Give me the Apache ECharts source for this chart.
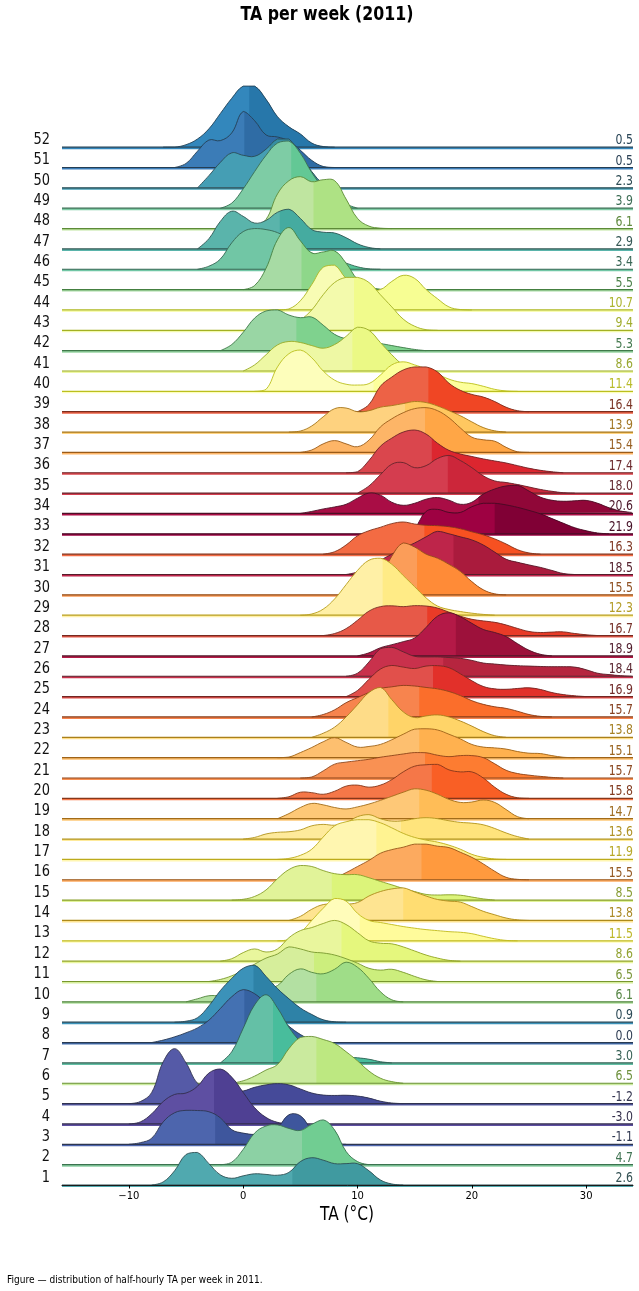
<!DOCTYPE html>
<html>
<head>
<meta charset="utf-8">
<title>TA per week (2011)</title>
<script src="https://cdn.jsdelivr.net/npm/echarts@6/dist/echarts.min.js"></script>
<style>
  html, body { margin: 0; padding: 0; background: #ffffff; }
  #chart { width: 639px; height: 1291px; }
</style>
</head>
<body>
<div id="chart"></div>
<script>
// weekly medians (right-hand labels), week 1 .. week 52
const medians = [
  2.6, 4.7, -1.1, -3.0, -1.2, 6.5, 3.0, 0.0, 0.9, 6.1,
  6.5, 8.6, 11.5, 13.8, 8.5, 15.5, 11.9, 13.6, 14.7, 15.8,
  15.7, 15.1, 13.8, 15.7, 16.9, 18.4, 18.9, 16.7, 12.3, 15.5,
  18.5, 16.3, 21.9, 20.6, 18.0, 17.4, 15.4, 13.9, 16.4, 11.4,
  8.6, 5.3, 9.4, 10.7, 5.5, 3.4, 2.9, 6.1, 3.9, 2.3,
  0.5, 0.5
];

// where the shade changes inside each ridge (°C), week 1 .. 52
const splitAt = [
  4.3, 5.15, -2.45, -2.55, -1.2, 6.4, 2.6, 0.1, 0.9, 6.4,
  6.2, 8.6, 10.2, 14.0, 7.75, 15.6, 11.65, 13.8, 15.4, 16.5,
  15.9, 15.4, 12.7, 15.4, 16.6, 17.5, 18.6, 16.1, 12.2, 15.2,
  18.4, 15.85, 22.0, 20.6, 17.9, 16.5, 15.9, 14.15, 16.2, 11.4,
  9.55, 4.65, 9.7, 10.7, 5.1, 3.4, 3.2, 6.15, 4.2, 2.3,
  0.1, 0.53
];

// first temperature (°C) of each density row; rows are sampled every 1 °C
const curveStart = [
  -8, -2, -10, -10, -10, -1, -2, -8, -6, -5,
  -3, -2, 3, 4, -1, 7, 3, 0, 3, 3,
  5, 3, 6, 6, 9, 9, 10, 7, 5, 10,
  9, 7, 13, 5, 10, 9, 5, 4, 10, 1,
  0, -2, 3, 3, 0, -4, -4, 0, -2, -4,
  -6, -7
];

// ridge heights, in units of the row spacing
const densities = [
  [0, 0.15, 0.7, 1.5, 1.6, 1.05, 0.5, 0.33, 0.45, 0.55, 0.52, 0.48, 0.62, 1.15, 1.34, 1.22, 1.05, 1.05, 1.05, 0.7, 0.25, 0.05, 0],
  [0, 0.12, 0.75, 1.55, 1.9, 1.95, 1.78, 1.68, 1.98, 2.2, 1.7, 0.65, 0.15, 0],
  [0, 0.08, 0.3, 1.1, 1.55, 1.67, 1.66, 1.6, 1.3, 0.72, 0.55, 0.48, 0.5, 0.8, 1.45, 1.4, 0.7, 0.25, 0.05, 0],
  [0, 0.1, 0.5, 1.1, 1.45, 1.52, 1.85, 2.5, 2.7, 2.3, 1.55, 0.8, 0.32, 0.08, 0],
  [0, 0.1, 0.55, 2.05, 2.7, 2.0, 1.0, 0.75, 0.65, 0.6, 0.62, 0.8, 0.92, 0.98, 0.92, 0.72, 0.52, 0.42, 0.4, 0.41, 0.37, 0.27, 0.12, 0.03, 0],
  [0, 0.12, 0.35, 0.65, 0.92, 1.7, 2.25, 2.3, 2.15, 1.95, 1.55, 1.1, 0.6, 0.25, 0.08, 0],
  [0, 0.55, 1.7, 2.85, 3.35, 2.7, 1.75, 1.05, 0.6, 0.38, 0.3, 0.28, 0.25, 0.18, 0.06, 0],
  [0, 0.12, 0.28, 0.48, 0.72, 1.1, 1.67, 2.25, 2.6, 2.4, 1.9, 1.3, 0.8, 0.4, 0.12, 0.02, 0],
  [0, 0.05, 0.22, 0.8, 1.55, 2.15, 2.65, 2.8, 2.25, 1.65, 1.15, 0.7, 0.38, 0.12, 0.02, 0],
  [0, 0.15, 0.3, 0.3, 0.35, 0.45, 0.55, 0.65, 0.8, 1.35, 1.62, 1.45, 1.38, 1.6, 1.95, 1.7, 1.15, 0.5, 0.1, 0],
  [0, 0.1, 0.28, 0.55, 0.85, 1.15, 1.35, 1.7, 1.6, 1.45, 1.4, 1.3, 1.12, 0.9, 0.65, 0.56, 0.6, 0.45, 0.25, 0.08, 0],
  [0, 0.12, 0.42, 0.6, 0.45, 0.6, 1.15, 1.5, 1.65, 1.85, 2.0, 1.8, 1.4, 1.0, 0.88, 0.85, 0.7, 0.5, 0.3, 0.15, 0.04, 0],
  [0, 0.06, 0.4, 1.0, 1.6, 2.08, 1.95, 1.35, 1.0, 0.9, 0.8, 0.7, 0.62, 0.55, 0.5, 0.45, 0.42, 0.35, 0.22, 0.1, 0.02, 0],
  [0, 0.2, 0.55, 0.78, 0.8, 0.8, 0.88, 1.2, 1.42, 1.55, 1.6, 1.4, 1.2, 1.03, 0.95, 0.9, 0.68, 0.45, 0.28, 0.12, 0.03, 0],
  [0, 0.04, 0.18, 0.5, 1.05, 1.5, 1.7, 1.65, 1.45, 1.3, 1.25, 1.25, 1.1, 0.92, 0.75, 0.57, 0.42, 0.28, 0.25, 0.26, 0.24, 0.15, 0.06, 0],
  [0, 0.1, 0.35, 0.65, 0.95, 1.3, 1.48, 1.6, 1.75, 1.75, 1.65, 1.58, 1.35, 1.1, 0.78, 0.42, 0.12, 0.02, 0],
  [0, 0.05, 0.2, 0.5, 1.1, 1.65, 1.85, 1.95, 1.95, 1.8, 1.55, 1.28, 1.08, 0.95, 0.85, 0.7, 0.5, 0.25, 0.1, 0.02, 0],
  [0, 0.08, 0.25, 0.33, 0.36, 0.45, 0.65, 0.72, 0.68, 0.8, 1.1, 1.2, 1.0, 0.88, 0.9, 1.0, 1.05, 1.0, 0.9, 0.82, 0.78, 0.7, 0.52, 0.3, 0.12, 0],
  [0, 0.25, 0.55, 0.75, 0.68, 0.55, 0.48, 0.58, 0.72, 0.9, 1.1, 1.3, 1.47, 1.4, 1.2, 0.95, 0.8, 0.82, 0.92, 0.8, 0.45, 0.1, 0],
  [0, 0.08, 0.3, 0.28, 0.2, 0.35, 0.6, 0.65, 0.55, 0.65, 0.92, 1.3, 1.58, 1.65, 1.67, 1.4, 1.3, 1.3, 1.0, 0.55, 0.2, 0.03, 0],
  [0, 0.05, 0.35, 0.68, 0.78, 0.85, 0.92, 1.02, 1.1, 1.18, 1.25, 1.24, 1.12, 1.05, 1.1, 1.1, 1.0, 0.7, 0.38, 0.22, 0.14, 0.08, 0.03, 0],
  [0, 0.03, 0.25, 0.5, 0.78, 0.98, 0.75, 0.52, 0.55, 0.65, 0.88, 1.15, 1.4, 1.42, 1.36, 1.15, 0.92, 0.65, 0.52, 0.48, 0.42, 0.3, 0.22, 0.2, 0.1, 0.02, 0],
  [0, 0.2, 0.5, 1.0, 1.6, 2.2, 2.45, 1.85, 1.25, 0.97, 1.05, 1.1, 1.0, 0.8, 0.55, 0.28, 0.08, 0],
  [0, 0.12, 0.35, 0.7, 0.95, 1.2, 1.4, 1.48, 1.55, 1.52, 1.45, 1.38, 1.25, 1.05, 0.8, 0.62, 0.5, 0.42, 0.28, 0.12, 0.03, 0],
  [0, 0.3, 0.85, 1.35, 1.53, 1.45, 1.38, 1.5, 1.52, 1.42, 1.12, 0.78, 0.5, 0.38, 0.36, 0.4, 0.43, 0.35, 0.2, 0.1, 0.04, 0],
  [0, 0.15, 0.7, 1.35, 1.42, 1.2, 0.98, 0.95, 0.95, 0.92, 0.88, 0.78, 0.65, 0.6, 0.55, 0.52, 0.5, 0.48, 0.47, 0.47, 0.45, 0.32, 0.15, 0.08, 0.03, 0],
  [0, 0.15, 0.4, 0.55, 0.7, 0.88, 1.4, 1.95, 2.12, 1.92, 1.6, 1.3, 1.15, 0.95, 0.6, 0.28, 0.08, 0],
  [0, 0.1, 0.34, 0.75, 1.2, 1.42, 1.46, 1.42, 1.47, 1.45, 1.35, 1.15, 0.95, 0.8, 0.72, 0.65, 0.52, 0.35, 0.2, 0.15, 0.17, 0.18, 0.1, 0.04, 0],
  [0, 0.06, 0.3, 0.8, 1.5, 2.2, 2.7, 2.8, 2.5, 1.95, 1.4, 0.85, 0.45, 0.28, 0.18, 0.1, 0.04, 0],
  [0, 0.15, 0.8, 1.9, 2.55, 2.35, 2.0, 1.8, 1.5, 1.15, 0.65, 0.25, 0.05, 0],
  [0, 0.12, 0.35, 0.7, 1.0, 1.3, 1.55, 1.85, 2.12, 2.0, 1.85, 1.7, 1.45, 1.1, 0.75, 0.6, 0.47, 0.35, 0.2, 0.05, 0],
  [0, 0.12, 0.45, 0.9, 1.15, 1.32, 1.5, 1.58, 1.48, 1.42, 1.4, 1.35, 1.25, 1.1, 0.95, 0.75, 0.5, 0.22, 0.06, 0],
  [0, 0.08, 0.3, 1.1, 1.2, 1.05, 1.05, 1.33, 1.5, 1.5, 1.42, 1.3, 1.15, 0.98, 0.75, 0.52, 0.3, 0.15, 0.04, 0],
  [0, 0.1, 0.22, 0.32, 0.45, 0.75, 1.0, 0.9, 0.55, 0.4, 0.5, 0.7, 0.78, 0.65, 0.45, 0.55, 0.95, 1.2, 1.35, 1.38, 1.1, 0.8, 0.65, 0.6, 0.62, 0.64, 0.5, 0.28, 0.12, 0.05],
  [0, 0.35, 0.9, 1.42, 1.5, 1.25, 1.35, 1.7, 1.85, 1.6, 1.25, 0.85, 0.6, 0.52, 0.42, 0.3, 0.18, 0.09, 0.02, 0],
  [0, 0.05, 0.6, 1.3, 1.7, 2.0, 2.1, 1.9, 1.45, 1.1, 0.92, 0.8, 0.68, 0.58, 0.48, 0.35, 0.22, 0.12, 0.05, 0],
  [0, 0.12, 0.42, 0.58, 0.42, 0.28, 0.6, 1.25, 1.65, 1.95, 2.15, 2.2, 2.05, 1.7, 1.2, 0.75, 0.62, 0.55, 0.25, 0.03, 0],
  [0, 0.05, 0.3, 0.75, 1.15, 1.18, 1.0, 1.05, 1.22, 1.3, 1.4, 1.5, 1.45, 1.28, 1.05, 0.8, 0.5, 0.22, 0.06, 0],
  [0, 0.35, 1.25, 1.7, 2.05, 2.2, 2.2, 1.95, 1.4, 1.05, 0.85, 0.72, 0.5, 0.22, 0.05, 0],
  [0, 0.1, 1.2, 1.85, 2.03, 1.65, 1.0, 0.55, 0.35, 0.31, 0.38, 0.8, 1.3, 1.45, 1.3, 1.1, 0.85, 0.6, 0.45, 0.38, 0.25, 0.1, 0.02, 0],
  [0, 0.3, 0.8, 1.28, 1.45, 1.4, 1.25, 1.12, 1.3, 1.7, 2.15, 2.0, 1.4, 0.8, 0.3, 0.1, 0.02, 0],
  [0, 0.3, 0.9, 1.6, 1.95, 2.0, 1.75, 1.62, 1.65, 1.25, 0.8, 0.58, 0.48, 0.42, 0.35, 0.25, 0.15, 0.06, 0],
  [0, 0.15, 0.5, 1.0, 1.75, 2.35, 2.6, 2.6, 2.35, 1.75, 1.15, 0.55, 0.2, 0.03, 0],
  [0, 0.05, 0.45, 1.25, 2.1, 2.2, 1.55, 1.2, 1.0, 1.0, 1.4, 1.7, 1.55, 1.0, 0.55, 0.15, 0.02, 0],
  [0, 0.2, 1.05, 2.45, 3.05, 2.4, 1.8, 1.85, 1.9, 1.3, 0.5, 0.15, 0.02, 0],
  [0, 0.15, 0.5, 1.3, 1.85, 2.0, 1.95, 1.8, 1.5, 1.1, 0.8, 0.6, 0.45, 0.3, 0.12, 0.02, 0],
  [0, 0.5, 1.35, 1.85, 1.6, 1.27, 1.4, 1.8, 1.95, 1.5, 0.95, 0.82, 0.78, 0.55, 0.25, 0.07, 0],
  [0, 0.1, 0.45, 1.7, 2.35, 2.55, 2.3, 2.4, 2.35, 1.45, 0.5, 0.12, 0.02, 0],
  [0, 0.25, 0.95, 1.8, 2.6, 3.2, 3.3, 2.7, 1.75, 1.0, 0.5, 0.2, 0],
  [0, 0.6, 1.25, 1.72, 1.6, 1.55, 1.9, 2.4, 2.4, 1.6, 0.8, 0.2, 0],
  [0, 0.2, 0.8, 1.35, 1.32, 1.7, 2.75, 2.3, 1.6, 1.5, 1.3, 0.85, 0.35, 0.05, 0],
  [0, 0, 0.12, 0.4, 0.9, 1.65, 2.4, 3.0, 3.0, 2.35, 1.5, 1.0, 0.65, 0.2, 0.03, 0]
];

const xTicks = [-10, 0, 10, 20, 30];
const xMin = -15.85;
const xMax = 34.1;

// matplotlib Spectral_r
const spectralR = ["#5e4fa2", "#3288bd", "#66c2a5", "#abdda4", "#e6f598", "#ffffbf",
  "#fee08b", "#fdae61", "#f46d43", "#d53e4f", "#9e0142"];

// the figure was squeezed horizontally, text too
const squeeze = 0.81;
const font = "DejaVu Sans";

function hexToRgb(h) {
  return [1, 3, 5].map((k) => parseInt(h.slice(k, k + 2), 16) / 255);
}
function cmap(t) {
  const n = spectralR.length - 1;
  const p = Math.max(0, Math.min(1, t)) * n;
  const k = Math.min(Math.floor(p), n - 1);
  const f = p - k;
  const a = hexToRgb(spectralR[k]);
  const b = hexToRgb(spectralR[k + 1]);
  return a.map((v, j) => v + (b[j] - v) * f);
}
function rgbToHls(c) {
  const [r, g, b] = c;
  const mx = Math.max(r, g, b), mn = Math.min(r, g, b);
  const l = (mx + mn) / 2;
  if (mx === mn) return [0, l, 0];
  const d = mx - mn;
  const s = l > 0.5 ? d / (2 - mx - mn) : d / (mx + mn);
  let h;
  if (mx === r) h = (g - b) / d + (g < b ? 6 : 0);
  else if (mx === g) h = (b - r) / d + 2;
  else h = (r - g) / d + 4;
  return [h / 6, l, s];
}
function hue(p, q, t) {
  if (t < 0) t += 1;
  if (t > 1) t -= 1;
  if (t < 1 / 6) return p + (q - p) * 6 * t;
  if (t < 1 / 2) return q;
  if (t < 2 / 3) return p + (q - p) * (2 / 3 - t) * 6;
  return p;
}
function hlsToRgb(h, l, s) {
  if (s === 0) return [l, l, l];
  const q = l < 0.5 ? l * (1 + s) : l + s - l * s;
  const p = 2 * l - q;
  return [hue(p, q, h + 1 / 3), hue(p, q, h), hue(p, q, h - 1 / 3)];
}
function css(c) {
  return "rgb(" + c.map((v) => Math.round(Math.max(0, Math.min(1, v)) * 255)).join(",") + ")";
}

// colour by rank of the weekly median
const byMedian = medians.map((m, i) => i).sort((a, b) => medians[a] - medians[b] || a - b);
const rankOf = [];
byMedian.forEach((wi, r) => { rankOf[wi] = r; });

const palette = medians.map((m, i) => {
  const base = cmap(rankOf[i] / (medians.length - 1));
  const [h, l, s] = rgbToHls(base);
  return {
    left: css(base),
    right: css(hlsToRgb(h, Math.max(0, l - 0.06), Math.min(1, s + 0.05))),
    dark: css(hlsToRgb(h, l * 0.5, s * 0.75)),
    text: css(hlsToRgb(h, l * 0.52, s * 0.65))
  };
});

function fmtTick(v) {
  return v < 0 ? "\u2212" + Math.abs(v) : String(v);
}

function renderItem(params, api) {
  const i = api.value(0);
  const base = i;
  const s0 = curveStart[i];
  const pts = densities[i].map((v, k) => api.coord([s0 + k, base + v]));
  const basePx = api.coord([0, base])[1];
  const leftPx = api.coord([xMin, base])[0];
  const rightPx = api.coord([xMax, base])[0];
  const splitPx = api.coord([splitAt[i], base])[0];
  const c = palette[i];
  const constraint = [pts[0].slice(), pts[0].slice()];
  const curve = { points: pts, smooth: 0.4, smoothConstraint: constraint };
  return {
    type: "group",
    children: [
      {
        type: "rect",
        shape: { x: leftPx, y: basePx, width: rightPx - leftPx, height: 2 },
        style: { fill: c.left }
      },
      {
        type: "polyline",
        shape: curve,
        style: { fill: c.left, stroke: "none", lineWidth: 0 }
      },
      {
        type: "polyline",
        shape: curve,
        style: { fill: c.right, stroke: "none", lineWidth: 0 },
        clipPath: { type: "rect", shape: { x: splitPx, y: 0, width: 2000, height: 2000 } }
      },
      {
        type: "line",
        shape: { x1: leftPx, y1: basePx, x2: rightPx, y2: basePx },
        style: { stroke: c.dark, lineWidth: 1.2 }
      },
      {
        type: "polyline",
        shape: curve,
        style: { fill: "none", stroke: c.dark, lineWidth: 0.9 }
      },
      {
        type: "text",
        x: 50,
        y: basePx - 7.5,
        scaleX: squeeze,
        z2: 100,
        style: {
          text: String(i + 1),
          fill: "#111111",
          fontSize: 16,
          fontFamily: font,
          align: "right",
          verticalAlign: "middle",
          textAlign: "right",
          textVerticalAlign: "middle"
        }
      },
      {
        type: "text",
        x: 633,
        y: basePx - 6.5,
        scaleX: squeeze,
        z2: 100,
        style: {
          text: medians[i].toFixed(1),
          fill: c.text,
          fontSize: 13.5,
          fontFamily: font,
          align: "right",
          verticalAlign: "middle",
          textAlign: "right",
          textVerticalAlign: "middle"
        }
      }
    ]
  };
}

// draw week 52 first so that lower ridges sit on top
const drawOrder = medians.map((m, i) => medians.length - 1 - i);

var myChart = echarts.init(document.getElementById("chart"), null, { renderer: "canvas" });

var option = {
  animation: false,
  backgroundColor: "#ffffff",
  grid: { left: 62, right: 6, top: 45.4, bottom: 106 },
  xAxis: {
    type: "value",
    min: xMin,
    max: xMax,
    z: 5,
    axisLine: { show: true, lineStyle: { color: "#1a1a1a", width: 1 } },
    axisTick: { show: true, length: 3.5, customValues: xTicks, lineStyle: { color: "#000000", width: 1 } },
    axisLabel: {
      customValues: xTicks,
      formatter: fmtTick,
      color: "#000000",
      fontSize: 10,
      fontFamily: font,
      margin: 6
    },
    splitLine: { show: false }
  },
  yAxis: {
    type: "value",
    min: 0,
    max: 56,
    show: false
  },
  graphic: [
    {
      type: "text",
      x: 327,
      y: 15,
      scaleX: squeeze,
      style: {
        text: "TA per week (2011)",
        fill: "#000000",
        fontSize: 19.5,
        fontWeight: "bold",
        fontFamily: font,
        align: "center",
        verticalAlign: "middle",
        textAlign: "center",
        textVerticalAlign: "middle"
      }
    },
    {
      type: "text",
      x: 347,
      y: 1215,
      scaleX: squeeze,
      style: {
        text: "TA (\u00b0C)",
        fill: "#000000",
        fontSize: 19,
        fontFamily: font,
        align: "center",
        verticalAlign: "middle",
        textAlign: "center",
        textVerticalAlign: "middle"
      }
    },
    {
      type: "text",
      x: 7,
      y: 1280,
      scaleX: squeeze,
      style: {
        text: "Figure \u2014 distribution of half-hourly TA per week in 2011.",
        fill: "#000000",
        fontSize: 11.2,
        fontFamily: font,
        align: "left",
        verticalAlign: "middle",
        textAlign: "left",
        textVerticalAlign: "middle"
      }
    }
  ],
  series: [
    {
      type: "custom",
      coordinateSystem: "cartesian2d",
      renderItem: renderItem,
      clip: false,
      silent: true,
      data: drawOrder.map((i) => [i, 0])
    }
  ]
};

myChart.setOption(option);
window.addEventListener("resize", function () {
  myChart.resize();
});
</script>
</body>
</html>
